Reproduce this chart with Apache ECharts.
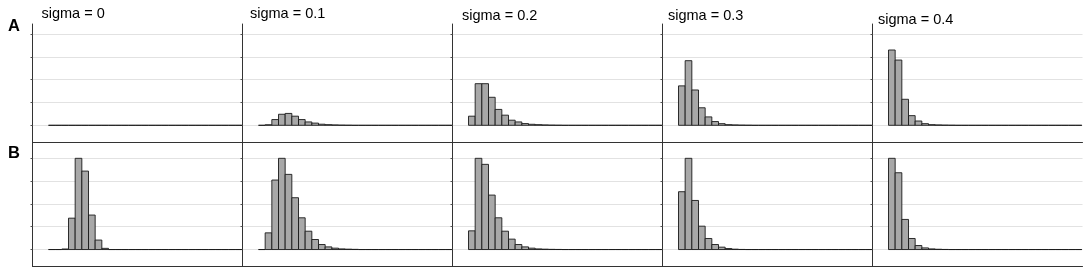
<!DOCTYPE html>
<html>
<head>
<meta charset="utf-8">
<script src="https://cdn.jsdelivr.net/npm/echarts@6/dist/echarts.min.js"></script>
<style>
  html, body { margin: 0; padding: 0; background: #fff; }
  #chart { width: 1084px; height: 275px; }
</style>
</head>
<body>
<div id="chart"></div>
<script>
// column headers and row tags
const sigmaLabels = ['sigma = 0', 'sigma = 0.1', 'sigma = 0.2', 'sigma = 0.3', 'sigma = 0.4'];
const rowTags = ['A', 'B'];
// gridline values (no tick labels are printed)
const yTicks = [0, 0.25, 0.5, 0.75, 1];

// bar heights per bin, relative to the top gridline
const rowA0 = [0, 0, 0, 0, 0, 0, 0, 0, 0, 0, 0, 0, 0, 0, 0, 0, 0, 0, 0, 0, 0, 0, 0, 0, 0, 0, 0, 0, 0];
const rowA1 = [0, 0.006, 0.063, 0.121, 0.13, 0.1, 0.063, 0.037, 0.024, 0.012, 0.007, 0.004, 0.002, 0.001, 0, 0, 0, 0, 0, 0, 0, 0, 0, 0, 0, 0, 0, 0, 0];
const rowA2 = [0.1, 0.456, 0.456, 0.307, 0.174, 0.111, 0.056, 0.037, 0.019, 0.011, 0.007, 0.004, 0.002, 0.001, 0, 0, 0, 0, 0, 0, 0, 0, 0, 0, 0, 0, 0, 0, 0];
const rowA3 = [0.432, 0.708, 0.387, 0.192, 0.092, 0.041, 0.018, 0.007, 0.004, 0.002, 0.001, 0, 0, 0, 0, 0, 0, 0, 0, 0, 0, 0, 0, 0, 0, 0, 0, 0, 0];
const rowA4 = [0.825, 0.715, 0.285, 0.106, 0.047, 0.018, 0.007, 0.004, 0.002, 0.001, 0, 0, 0, 0, 0, 0, 0, 0, 0, 0, 0, 0, 0, 0, 0, 0, 0, 0, 0];

const rowB0 = [0, 0, 0.006, 0.344, 1.0, 0.86, 0.378, 0.104, 0.013, 0, 0, 0, 0, 0, 0, 0, 0, 0, 0, 0, 0, 0, 0, 0, 0, 0, 0, 0, 0];
const rowB1 = [0, 0.183, 0.762, 1.0, 0.824, 0.568, 0.348, 0.201, 0.11, 0.055, 0.029, 0.015, 0.007, 0.004, 0.002, 0, 0, 0, 0, 0, 0, 0, 0, 0, 0, 0, 0, 0, 0];
const rowB2 = [0.205, 1.0, 0.934, 0.597, 0.348, 0.201, 0.114, 0.055, 0.029, 0.015, 0.007, 0.004, 0.002, 0.001, 0, 0, 0, 0, 0, 0, 0, 0, 0, 0, 0, 0, 0, 0, 0];
const rowB3 = [0.634, 1.0, 0.538, 0.256, 0.121, 0.055, 0.026, 0.011, 0.004, 0.001, 0, 0, 0, 0, 0, 0, 0, 0, 0, 0, 0, 0, 0, 0, 0, 0, 0, 0, 0];
const rowB4 = [1.0, 0.842, 0.33, 0.121, 0.044, 0.018, 0.007, 0.003, 0.001, 0, 0, 0, 0, 0, 0, 0, 0, 0, 0, 0, 0, 0, 0, 0, 0, 0, 0, 0, 0];

const panels = [
  [rowA0, rowA1, rowA2, rowA3, rowA4],
  [rowB0, rowB1, rowB2, rowB3, rowB4]
];

const chart = echarts.init(document.getElementById('chart'));

const panelLeft = 32.5;
const panelWidth = 210;
// top, height, y range for each row
const rows = [
  { top: 24, height: 118, min: -0.183, max: 1.11 },
  { top: 142, height: 124.5, min: -0.186, max: 1.179 }
];

const grids = [], xAxes = [], yAxes = [], series = [];

function renderBin(params, api) {
  const i = api.value(0);
  const v = api.value(1);
  const p0 = api.coord([i, 0]);
  const p1 = api.coord([i + 1, v]);
  return {
    type: 'rect',
    shape: { x: p0[0], y: p1[1], width: p1[0] - p0[0], height: p0[1] - p1[1] },
    style: { fill: '#a8a8a8', stroke: '#1a1a1a', lineWidth: 0.9 }
  };
}

rows.forEach((row, r) => {
  panels[r].forEach((values, c) => {
    const idx = grids.length;
    grids.push({
      left: panelLeft + c * panelWidth,
      top: row.top,
      width: panelWidth,
      height: row.height
    });
    xAxes.push({
      gridIndex: idx,
      type: 'value',
      min: -2.4,
      max: 29.1,
      axisLine: { show: true, onZero: false, lineStyle: { color: '#333', width: 1 } },
      axisTick: { show: false },
      axisLabel: { show: false },
      splitLine: { show: false }
    });
    yAxes.push({
      gridIndex: idx,
      type: 'value',
      min: row.min,
      max: row.max,
      axisLine: { show: true, onZero: false, lineStyle: { color: '#333', width: 1 } },
      axisTick: { show: true, length: 2, customValues: yTicks, lineStyle: { color: '#555' } },
      axisLabel: { show: false, customValues: yTicks },
      splitLine: { show: true, lineStyle: { color: '#e2e2e2', width: 1.2 } }
    });
    series.push({
      type: 'custom',
      xAxisIndex: idx,
      yAxisIndex: idx,
      renderItem: renderBin,
      data: values.map((v, i) => [i, v]),
      silent: true
    });
  });
});

// header positions
const headerX = [41.5, 250, 462, 668, 878];
const headerY = [6, 6.3, 8, 8.5, 12];

const graphics = [];
sigmaLabels.forEach((t, c) => {
  graphics.push({
    type: 'text',
    left: headerX[c],
    top: headerY[c],
    style: { text: t, font: '14.5px "Liberation Sans", Arial, sans-serif', fill: '#000' }
  });
});
graphics.push({
  type: 'text', left: 8, top: 17.5,
  style: { text: rowTags[0], font: 'bold 16.5px "Liberation Sans", Arial, sans-serif', fill: '#000' }
});
graphics.push({
  type: 'text', left: 8, top: 145,
  style: { text: rowTags[1], font: 'bold 16.5px "Liberation Sans", Arial, sans-serif', fill: '#000' }
});

chart.setOption({
  animation: false,
  grid: grids,
  xAxis: xAxes,
  yAxis: yAxes,
  series: series,
  graphic: graphics
});
</script>
</body>
</html>
